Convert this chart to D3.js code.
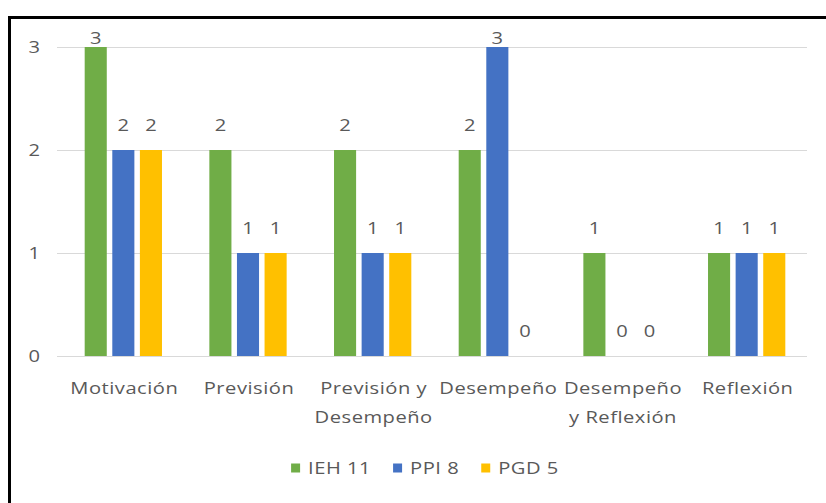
<!DOCTYPE html>
<html>
<head>
<meta charset="utf-8">
<script src="https://cdn.jsdelivr.net/npm/d3@7"></script>
<style>
  html, body { margin: 0; padding: 0; background: #ffffff; }
  svg { display: block; }
  text { font-family: "Open Sans", "Noto Sans", sans-serif; fill: #595959; }
</style>
</head>
<body>
<svg id="chart" width="826" height="503"></svg>
<script>
// Categories (phase of self-regulation) and the wrapped lines used for their labels
const categories = ["Motivación", "Previsión", "Previsión y Desempeño", "Desempeño", "Desempeño y Reflexión", "Reflexión"];
const categoryLines = [["Motivación"], ["Previsión"], ["Previsión y", "Desempeño"], ["Desempeño"], ["Desempeño", "y Reflexión"], ["Reflexión"]];

// Series names and colours
const seriesNames = ["IEH 11", "PPI 8", "PGD 5"];
const seriesColors = ["#70AD47", "#4472C4", "#FFC000"];

// Counts per category for each series
const valuesIEH = [3, 2, 2, 2, 1, 1];
const valuesPPI = [2, 1, 1, 3, 0, 1];
const valuesPGD = [2, 1, 1, 0, 0, 1];
const seriesValues = [valuesIEH, valuesPPI, valuesPGD];

// Y axis ticks
const yTicks = [0, 1, 2, 3];

// Text is drawn slightly widened horizontally
const TEXT_SX = 1.26;

const svg = d3.select("#chart");

// Places a text element at (x, y) inside a horizontally widened group
function wideText(parent, x, y, anchor, size, spacing) {
  return parent.append("g")
    .attr("transform", `translate(${x},${y}) scale(${TEXT_SX},1)`)
    .append("text")
    .attr("text-anchor", anchor)
    .attr("dy", "0.35em")
    .attr("font-size", size)
    .attr("letter-spacing", spacing);
}

// Frame around the chart area
svg.append("path")
  .attr("d", "M9.5,830 L9.5,17.5 L830,17.5")
  .attr("fill", "none")
  .attr("stroke", "#000")
  .attr("stroke-width", 3);

const plot = { left: 57, right: 807, top: 47, bottom: 356 };

const y = d3.scaleLinear().domain([0, 3]).range([plot.bottom, plot.top]);

const x0 = d3.scaleBand()
  .domain(categories)
  .range([61, 809])
  .paddingInner(0.38)
  .paddingOuter(0.19);

const x1 = d3.scaleBand()
  .domain(seriesNames)
  .range([0, x0.bandwidth()])
  .paddingInner(0.2)
  .paddingOuter(0);

// Horizontal gridlines
svg.append("g")
  .selectAll("line")
  .data(yTicks)
  .join("line")
  .attr("x1", plot.left)
  .attr("x2", plot.right)
  .attr("y1", d => Math.round(y(d)) + 0.5)
  .attr("y2", d => Math.round(y(d)) + 0.5)
  .attr("stroke", "#D9D9D9")
  .attr("stroke-width", 1);

// Y tick labels
const yLab = svg.append("g");
yTicks.forEach(t => {
  wideText(yLab, 40, y(t), "end", 16, 0).text(t);
});

// Bars
const rows = [];
categories.forEach((c, i) => {
  seriesNames.forEach((s, j) => {
    rows.push({ cat: c, series: s, value: seriesValues[j][i], color: seriesColors[j] });
  });
});

const bars = svg.append("g");
bars.selectAll("rect")
  .data(rows)
  .join("rect")
  .attr("x", d => x0(d.cat) + x1(d.series))
  .attr("y", d => y(d.value))
  .attr("width", x1.bandwidth())
  .attr("height", d => y(0) - y(d.value))
  .attr("fill", d => d.color);

// Value labels above each bar, kept inside the plot's top
const valLab = svg.append("g");
rows.forEach(d => {
  const cx = x0(d.cat) + x1(d.series) + x1.bandwidth() / 2;
  const ly = Math.max(y(d.value) - 25, plot.top - 9);
  wideText(valLab, cx, ly, "middle", 16, 0).text(d.value);
});

// Category labels (wrapped)
const catG = svg.append("g");
categories.forEach((c, i) => {
  const cx = x0(c) + x0.bandwidth() / 2 + 1;
  categoryLines[i].forEach((line, k) => {
    wideText(catG, cx, 388 + k * 29, "middle", 16, 0.4).text(line);
  });
});

// Legend
const legend = svg.append("g");
const legendItems = legend.selectAll("g.item")
  .data(seriesNames)
  .join("g")
  .attr("class", "item");
legendItems.append("rect")
  .attr("width", 9)
  .attr("height", 9)
  .attr("y", -4.5)
  .attr("fill", (d, i) => seriesColors[i]);
legendItems.each(function (d) {
  wideText(d3.select(this), 17, 0, "start", 16, 0.4).text(d);
});

let cursor = 0;
const offsets = [];
legendItems.each(function () {
  const w = this.getBBox().width;
  offsets.push(cursor);
  cursor += w + 22;
});
const totalW = cursor - 22;
const startX = 425 - totalW / 2;
legendItems.attr("transform", (d, i) => `translate(${startX + offsets[i]},468)`);
</script>
</body>
</html>
